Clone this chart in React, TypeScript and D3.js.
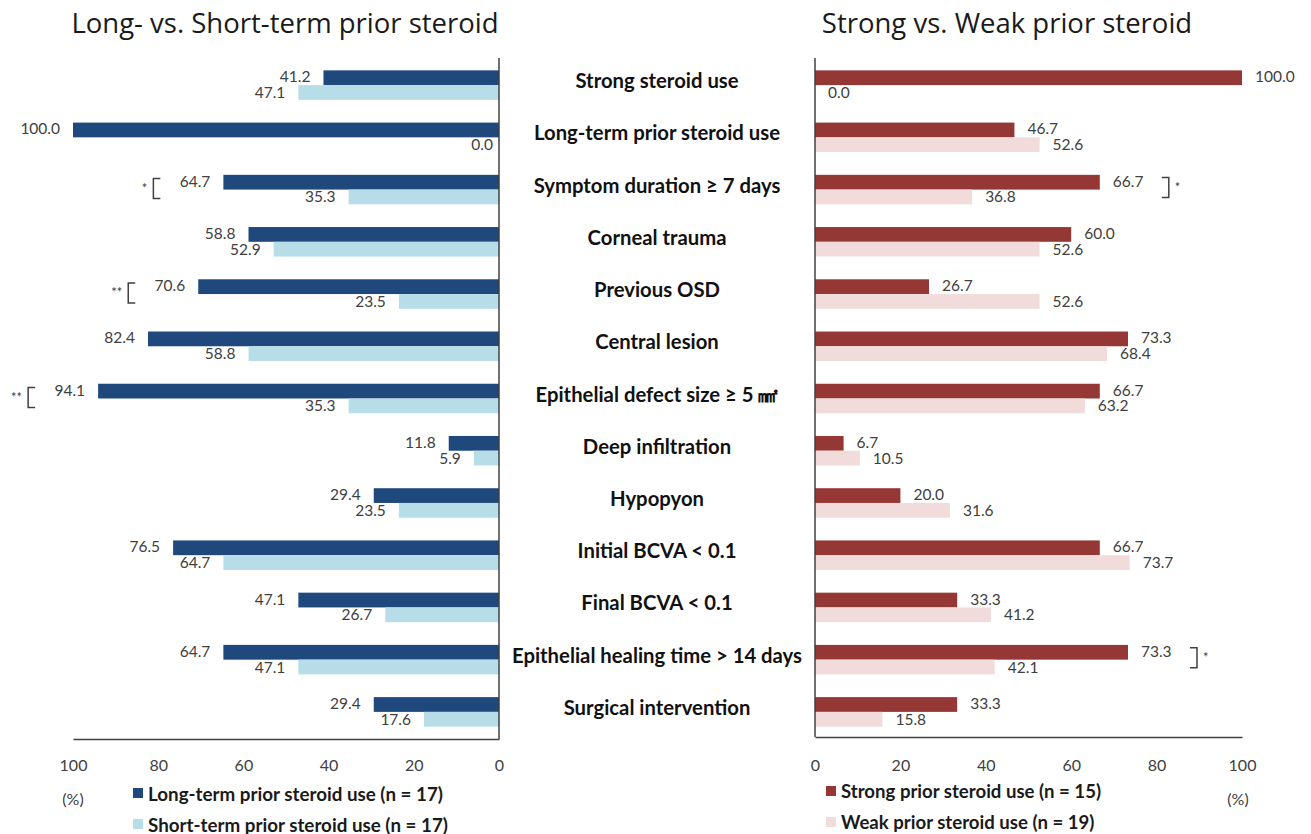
import React, { useEffect, useRef } from 'react';
import * as d3 from 'd3';

const categories = [
  'Strong steroid use',
  'Long-term prior steroid use',
  'Symptom duration ≥ 7 days',
  'Corneal trauma',
  'Previous OSD',
  'Central lesion',
  'Epithelial defect size ≥ 5 ㎟',
  'Deep infiltration',
  'Hypopyon',
  'Initial BCVA < 0.1',
  'Final BCVA < 0.1',
  'Epithelial healing time > 14 days',
  'Surgical intervention',
];
const longTerm = [41.2, 100.0, 64.7, 58.8, 70.6, 82.4, 94.1, 11.8, 29.4, 76.5, 47.1, 64.7, 29.4];
const shortTerm = [47.1, 0.0, 35.3, 52.9, 23.5, 58.8, 35.3, 5.9, 23.5, 64.7, 26.7, 47.1, 17.6];
const strongUse = [100.0, 46.7, 66.7, 60.0, 26.7, 73.3, 66.7, 6.7, 20.0, 66.7, 33.3, 73.3, 33.3];
const weakUse = [0.0, 52.6, 36.8, 52.6, 52.6, 68.4, 63.2, 10.5, 31.6, 73.7, 41.2, 42.1, 15.8];
const xTicks = [0, 20, 40, 60, 80, 100];
const leftSig = [
  { row: 2, mark: '*' },
  { row: 4, mark: '**' },
  { row: 6, mark: '**' },
];
const rightSig = [
  { row: 2, mark: '*' },
  { row: 11, mark: '*' },
];
const leftTitle = 'Long- vs. Short-term prior steroid';
const rightTitle = 'Strong vs. Weak prior steroid';
const leftLegend = ['Long-term prior steroid use (n = 17)', 'Short-term prior steroid use (n = 17)'];
const rightLegend = ['Strong prior steroid use (n = 15)', 'Weak prior steroid use (n = 19)'];

const C_DARKBLUE = '#1f497d';
const C_LIGHTBLUE = '#b7dee8';
const C_DARKRED = '#953735';
const C_PINK = '#f2dcdb';
const C_TEXT = '#404040';
const C_AXIS = '#404040';
const NUM_FONT = 'Lato, "Open Sans", sans-serif';
const TITLE_FONT = '"Open Sans", Lato, sans-serif';

export default function App() {
  const W = 1311;
  const H = 834;
  const y = d3.scaleBand<string>().domain(categories).range([59, 738]).paddingInner(0.435).paddingOuter(0.2175);
  const sub = d3.scaleBand<string>().domain(['a', 'b']).range([0, y.bandwidth()]);
  const bh = sub.bandwidth();
  const xL = d3.scaleLinear().domain([0, 100]).range([499, 73]);
  const xR = d3.scaleLinear().domain([0, 100]).range([815, 1242]);
  const axL = useRef<SVGGElement>(null);
  const axR = useRef<SVGGElement>(null);

  useEffect(() => {
    const style = (g: d3.Selection<SVGGElement, unknown, null, undefined>) => {
      g.select('.domain').attr('stroke', C_AXIS).attr('stroke-width', 1.5);
      g.selectAll('text').attr('fill', C_TEXT).style('font-family', NUM_FONT).style('font-size', '16px');
    };
    if (axL.current) {
      const g = d3.select(axL.current);
      g.call(d3.axisBottom(xL).tickValues(xTicks).tickSize(0).tickSizeOuter(0).tickPadding(21).tickFormat(d3.format('d')));
      style(g);
    }
    if (axR.current) {
      const g = d3.select(axR.current);
      g.call(d3.axisBottom(xR).tickValues(xTicks).tickSize(0).tickSizeOuter(0).tickPadding(23).tickFormat(d3.format('d')));
      style(g);
    }
  }, []);

  const fmt = d3.format('.1f');
  const darkY = (c: string) => (y(c) as number) + (sub('a') as number);
  const lightY = (c: string) => (y(c) as number) + (sub('b') as number);
  const center = (c: string) => (y(c) as number) + y.bandwidth() / 2;

  return (
    <svg width={W} height={H} style={{ position: 'absolute', left: 0, top: 0, background: '#fff' }}>
      <rect x={0} y={0} width={W} height={H} fill="#fff" />
      {/* Titles */}
      <text x={285} y={33} textAnchor="middle" fontFamily={TITLE_FONT} fontSize={27.5} fill="#1a1a1a">{leftTitle}</text>
      <text x={1007} y={33} textAnchor="middle" fontFamily={TITLE_FONT} fontSize={27.5} fill="#1a1a1a">{rightTitle}</text>

      {/* Left bars */}
      {categories.map((c, i) => (
        <g key={'L' + i}>
          <rect x={xL(longTerm[i])} y={darkY(c)} width={xL(0) - xL(longTerm[i])} height={bh} fill={C_DARKBLUE} />
          <rect x={xL(shortTerm[i])} y={lightY(c)} width={xL(0) - xL(shortTerm[i])} height={bh} fill={C_LIGHTBLUE} />
          <text x={xL(longTerm[i]) - 13} y={darkY(c) + bh / 2 - 1.5} textAnchor="end" dominantBaseline="central" fontFamily={NUM_FONT} fontSize={15.5} fill={C_TEXT}>{fmt(longTerm[i])}</text>
          <text x={xL(shortTerm[i]) - (shortTerm[i] === 0 ? 6 : 13)} y={lightY(c) + bh / 2 - 0.5} textAnchor="end" dominantBaseline="central" fontFamily={NUM_FONT} fontSize={15.5} fill={C_TEXT}>{fmt(shortTerm[i])}</text>
        </g>
      ))}

      {/* Right bars */}
      {categories.map((c, i) => (
        <g key={'R' + i}>
          <rect x={xR(0)} y={darkY(c)} width={xR(strongUse[i]) - xR(0)} height={bh} fill={C_DARKRED} />
          <rect x={xR(0)} y={lightY(c)} width={xR(weakUse[i]) - xR(0)} height={bh} fill={C_PINK} />
          <text x={xR(strongUse[i]) + 13} y={darkY(c) + bh / 2 - 1.5} textAnchor="start" dominantBaseline="central" fontFamily={NUM_FONT} fontSize={15.5} fill={C_TEXT}>{fmt(strongUse[i])}</text>
          <text x={xR(weakUse[i]) + 13} y={lightY(c) + bh / 2 - 0.5} textAnchor="start" dominantBaseline="central" fontFamily={NUM_FONT} fontSize={15.5} fill={C_TEXT}>{fmt(weakUse[i])}</text>
        </g>
      ))}

      {/* Category labels */}
      {categories.map((c, i) => (
        <text key={'C' + i} x={657} y={center(c) - 5} textAnchor="middle" dominantBaseline="central" fontFamily={NUM_FONT} fontWeight={700} fontSize={20.3} fill="#111">{c}</text>
      ))}

      {/* Significance brackets */}
      {leftSig.map((s, i) => {
        const c = categories[s.row];
        const bx = xL(longTerm[s.row]) - 70;
        const cy = center(c);
        return (
          <g key={'LS' + i}>
            <path d={`M${bx + 7},${cy - 11}H${bx}V${cy + 9}H${bx + 7}`} fill="none" stroke={C_TEXT} strokeWidth={1.5} />
            <text x={bx - 6} y={cy - 2} textAnchor="end" dominantBaseline="central" fontFamily={NUM_FONT} fontSize={13} fill={C_TEXT}>{s.mark}</text>
          </g>
        );
      })}
      {rightSig.map((s, i) => {
        const c = categories[s.row];
        const bx = xR(strongUse[s.row]) + 69;
        const cy = center(c);
        return (
          <g key={'RS' + i}>
            <path d={`M${bx - 7},${cy - 12}H${bx}V${cy + 8}H${bx - 7}`} fill="none" stroke={C_TEXT} strokeWidth={1.5} />
            <text x={bx + 6} y={cy - 3} textAnchor="start" dominantBaseline="central" fontFamily={NUM_FONT} fontSize={13} fill={C_TEXT}>{s.mark}</text>
          </g>
        );
      })}

      {/* Axes */}
      <line x1={xL(0)} x2={xL(0)} y1={58} y2={739} stroke={C_AXIS} strokeWidth={1.5} />
      <line x1={xR(0)} x2={xR(0)} y1={58} y2={737} stroke={C_AXIS} strokeWidth={1.5} />
      <g ref={axL} transform="translate(0,739)" />
      <g ref={axR} transform="translate(0,737)" />

      {/* (%) */}
      <text x={73} y={805} textAnchor="middle" fontFamily={NUM_FONT} fontSize={16} fill={C_TEXT}>(%)</text>
      <text x={1238} y={805} textAnchor="middle" fontFamily={NUM_FONT} fontSize={16} fill={C_TEXT}>(%)</text>

      {/* Legends */}
      {leftLegend.map((t, i) => (
        <g key={'LL' + i}>
          <rect x={133} y={788 + i * 31} width={10} height={10} fill={i === 0 ? C_DARKBLUE : C_LIGHTBLUE} />
          <text x={148} y={793 + i * 31} dominantBaseline="central" fontFamily={NUM_FONT} fontWeight={700} fontSize={18.8} fill="#1a1a1a">{t}</text>
        </g>
      ))}
      {rightLegend.map((t, i) => (
        <g key={'RL' + i}>
          <rect x={826} y={786 + i * 31} width={10} height={10} fill={i === 0 ? C_DARKRED : C_PINK} />
          <text x={841} y={791 + i * 31} dominantBaseline="central" fontFamily={NUM_FONT} fontWeight={700} fontSize={18.6} fill="#1a1a1a">{t}</text>
        </g>
      ))}
    </svg>
  );
}
